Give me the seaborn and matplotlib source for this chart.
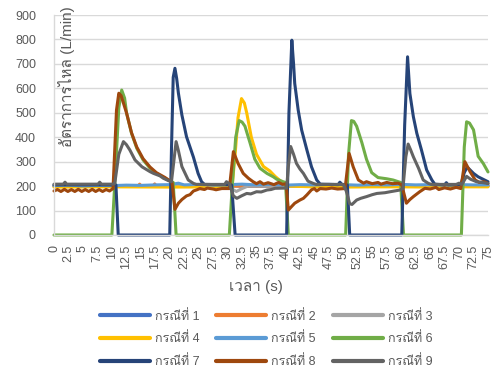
import numpy as np
import pandas as pd
import seaborn as sns
import matplotlib.pyplot as plt
from matplotlib import font_manager
from matplotlib.ft2font import FT2Font

# ---------------- data ----------------
case_names = ["กรณีที่ 1", "กรณีที่ 2", "กรณีที่ 3", "กรณีที่ 4", "กรณีที่ 5",
              "กรณีที่ 6", "กรณีที่ 7", "กรณีที่ 8", "กรณีที่ 9"]
case_colors = ["#4472C4", "#ED7D31", "#A5A5A5", "#FFC000", "#5B9BD5",
               "#70AD47", "#264478", "#9E480E", "#636363"]

t1 = [0, 5, 10, 15, 20, 25, 30, 35, 40, 45, 50, 55, 60, 65, 70, 75]
v1 = [200, 201, 199, 200, 202, 200, 201, 199, 200, 201, 200, 199, 201, 200, 200, 201]

t2 = [0, 10, 14.5, 14.8, 15.1, 17.1, 17.4, 17.7, 22, 30, 36, 36.3, 36.6, 48, 48.3, 48.6, 55, 65, 65.3, 65.6, 75]
v2 = [200, 200, 200, 208, 200, 200, 209, 200, 203, 200, 200, 206, 200, 200, 207, 200, 201, 200, 208, 200, 200]

t3 = [0, 10, 20, 30.3, 31.0, 31.5, 32.5, 33.5, 40, 50, 60, 70, 75]
v3 = [200, 199, 201, 200, 185, 178, 190, 200, 200, 201, 200, 199, 200]

t4 = [0, 10, 20, 30.4, 30.8, 31.3, 31.8, 32.4, 32.9, 33.3, 34.1, 35.0, 36.2, 37.3, 38.2, 39.6, 40.5, 45, 50, 55, 60, 65, 70, 75]
v4 = [196, 197, 196, 197, 203, 330, 480, 558, 540, 500, 400, 330, 280, 262, 240, 212, 200, 197, 196, 197, 197, 196, 197, 197]

t5 = [0, 2.5, 5, 7.5, 10, 12.5, 15, 17.5, 20, 21.5, 22.5, 25, 27.5, 30, 32.5, 35, 37.5, 40,
      42.5, 45, 47.5, 50, 52.5, 55, 57.5, 60, 62.5, 65, 67.5, 70, 72.5, 75]
v5 = [202, 204, 201, 203, 202, 204, 203, 205, 206, 212, 205, 207, 204, 206, 208, 205, 207, 204,
      206, 205, 207, 206, 204, 206, 205, 207, 205, 206, 204, 206, 205, 205]

t6 = [0, 10.0, 10.6, 11.2, 11.7, 12.2, 12.55, 13.4, 14.3, 15.4, 16.6, 17.7, 19.2, 20.0, 20.6, 21.1,
      30.3, 30.8, 31.4, 32.0, 32.5, 33.0, 33.9, 34.7, 35.6, 36.8, 37.9, 38.5, 39.6, 40.0, 40.5,
      50.4, 50.9, 51.4, 51.8, 52.3, 53.2, 54.0, 54.9, 56.0, 57.5, 58.6, 59.5, 59.9, 60.4,
      70.4, 70.9, 71.3, 71.8, 72.5, 73.3, 74.2, 75.0]
v6 = [0, 0, 250, 520, 593, 560, 498, 416, 355, 307, 273, 252, 232, 222, 215, 0,
      0, 200, 400, 468, 462, 445, 375, 310, 273, 252, 238, 228, 218, 215, 0,
      0, 330, 468, 465, 445, 378, 310, 255, 235, 230, 225, 218, 215, 0,
      0, 360, 463, 458, 430, 322, 292, 258]

t7 = [0, 10.7, 11.1, 20.0, 20.3, 20.6, 20.9, 21.2, 21.5, 22.1, 22.9, 23.5, 24.1, 24.9, 25.5, 26.0,
      30.7, 31.3, 40.2, 40.6, 41.1, 41.4, 41.6, 42.2, 42.8, 43.7, 44.5, 45.4, 46.0, 49.1, 49.4, 49.8,
      50.7, 51.1, 60.1, 60.6, 61.1, 61.5, 62.1, 62.7, 63.5, 64.4, 65.3, 65.8, 67.5, 67.8, 68.1,
      70.3, 70.9, 71.4, 72.5, 73.3, 75]
v7 = [205, 205, 0, 0, 350, 645, 682, 640, 580, 491, 402, 360, 318, 252, 218, 207,
      205, 0, 0, 500, 797, 700, 620, 511, 429, 348, 279, 225, 208, 206, 216, 206,
      205, 0, 0, 450, 729, 579, 484, 416, 348, 266, 225, 208, 205, 214, 205,
      205, 255, 278, 252, 238, 218]

t8 = [0, 0.6, 1.2, 1.8, 2.4, 3.0, 3.6, 4.2, 4.8, 5.4, 6.0, 6.6, 7.2, 7.8, 8.4, 9.0, 9.6, 10.2,
      10.8, 11.2, 11.6, 12.55, 13.4, 14.3, 15.4, 16.6, 17.7, 19.2, 20.0, 20.4, 20.9, 21.5, 22.1,
      22.9, 23.5, 24.1, 24.7, 25.2, 26.0, 26.5, 27.5, 28.0, 29.0, 30.3, 31.0, 31.8, 32.7, 33.6,
      34.4, 35.0, 35.6, 36.2, 37.0, 38.0, 38.8, 39.5, 40.1, 40.5, 41.0, 41.6, 42.5, 43.1, 43.7,
      44.5, 45.0, 45.4, 46.0, 47.0, 48.0, 49.0, 50.3, 51.0, 51.7, 52.6, 53.5, 54.0, 55.0, 56.0,
      56.5, 57.5, 58.5, 59.5, 60.1, 60.9, 61.5, 62.1, 63.2, 64.1, 65.0, 66.0, 66.5, 67.5, 68.5,
      69.5, 70.3, 71.0, 71.9, 72.8, 73.5, 74.3, 75.0]
v8 = [180, 186, 178, 187, 178, 186, 178, 187, 178, 186, 178, 187, 178, 186, 178, 186, 180, 190,
      511, 580, 570, 498, 418, 360, 312, 278, 255, 235, 222, 215, 105, 130, 145,
      160, 165, 180, 185, 190, 186, 192, 188, 185, 190, 190, 341, 293, 252, 232,
      218, 210, 218, 208, 214, 206, 215, 207, 210, 102, 115, 130, 143, 150, 164,
      185, 190, 180, 190, 188, 192, 188, 190, 334, 279, 225, 212, 218, 210, 215,
      208, 215, 210, 212, 205, 130, 145, 157, 177, 191, 188, 195, 186, 193, 188,
      195, 190, 300, 259, 225, 215, 218, 211]

t9 = [0, 1.6, 1.9, 2.2, 7.6, 7.9, 8.2, 10.3, 10.5, 11.2, 12.0, 12.5, 13.1, 14.0, 15.2, 16.6, 17.2,
      18.3, 18.9, 19.8, 20.3, 20.7, 21.1, 21.5, 22.1, 23.2, 24.1, 24.6, 29.5, 29.8, 30.3, 31.0,
      31.6, 32.4, 33.3, 34.0, 35.0, 35.8, 36.8, 37.5, 38.2, 40.2, 40.5, 40.9, 41.4, 41.9, 42.5,
      43.1, 43.9, 44.8, 45.3, 50.0, 50.5, 51.1, 51.5, 52.3, 53.0, 54.0, 55.0, 55.8, 57.2, 58.1,
      59.8, 60.3, 60.8, 61.2, 61.6, 62.1, 63.0, 63.8, 64.7, 65.2, 69.5, 70.0, 70.5, 71.3, 72.0,
      73.0, 75.0]
v9 = [208, 208, 216, 208, 208, 216, 208, 208, 211, 330, 382, 370, 348, 307, 279, 259, 252,
      242, 232, 222, 218, 300, 382, 345, 280, 225, 211, 207, 207, 218, 210, 160,
      150, 160, 170, 168, 177, 176, 184, 186, 191, 192, 280, 362, 330, 293, 270,
      252, 220, 211, 207, 207, 180, 128, 125, 143, 150, 157, 165, 170, 173, 177,
      184, 190, 320, 372, 350, 320, 273, 225, 211, 207, 207, 212, 207, 240, 228,
      218, 211]

case_times = [t1, t2, t3, t4, t5, t6, t7, t8, t9]
case_values = [v1, v2, v3, v4, v5, v6, v7, v8, v9]

x_ticks = np.arange(0, 75.01, 2.5)
y_ticks = np.arange(0, 901, 100)


# ---------------- fonts ----------------
def find_thai_font():
    for entry in font_manager.fontManager.ttflist:
        try:
            if 0x0E01 in FT2Font(entry.fname).get_charmap():
                return entry.name
        except Exception:
            continue
    return None


sns.set_theme(style="white")
thai = find_thai_font()
families = ["Liberation Sans"] + ([thai] if thai else []) + ["DejaVu Sans"]
plt.rcParams["font.family"] = families

text_color = "#595959"
grid_color = "#D9D9D9"

# ---------------- figure ----------------
fig = plt.figure(figsize=(4.94, 3.77), dpi=100)
ax = fig.add_axes([54 / 494, 1 - 235 / 377, 434 / 494, 220 / 377])

frames = [pd.DataFrame({"time": t, "flow": v, "case": name})
          for name, t, v in zip(case_names, case_times, case_values)]
df = pd.concat(frames, ignore_index=True)

sns.lineplot(data=df, x="time", y="flow", hue="case", hue_order=case_names,
             palette=case_colors, estimator=None, linewidth=2.2, ax=ax,
             clip_on=False, solid_capstyle="round", solid_joinstyle="round")

ax.set_xlim(0, 75)
ax.set_ylim(0, 900)
ax.set_xticks(x_ticks)
ax.set_xticklabels([f"{x:g}" for x in x_ticks], rotation=90)
ax.set_yticks(y_ticks)
ax.tick_params(axis="x", length=0, pad=7, labelsize=9, colors=text_color)
ax.tick_params(axis="y", length=0, pad=13, labelsize=9, colors=text_color)

ax.grid(axis="y", color=grid_color, linewidth=1)
ax.grid(axis="x", visible=False)
ax.set_axisbelow(True)
for side in ["top", "right"]:
    ax.spines[side].set_visible(False)
for side in ["left", "bottom"]:
    ax.spines[side].set_color(grid_color)
    ax.spines[side].set_linewidth(1)

ax.set_xlabel("เวลา (s)", fontsize=11, color=text_color)
ax.xaxis.label.set_va("center")
ax.xaxis.set_label_coords((256 - 54) / 434, (235 - 287) / 220)

ax.set_ylabel("อัตราการไหล (L/min)", fontsize=11, color=text_color)
ax.yaxis.label.set_va("center")
ax.yaxis.set_label_coords((66 - 54) / 434, (235 - 77) / 220)

# legend: three rows, filled row by row
handles, labels = ax.get_legend_handles_labels()
ax.get_legend().remove()
order = [0, 3, 6, 1, 4, 7, 2, 5, 8]
fig.legend([handles[i] for i in order], [labels[i] for i in order],
           ncol=3, loc="center", bbox_to_anchor=(266 / 494, 1 - 339 / 377),
           frameon=False, fontsize=9, labelcolor=text_color,
           handlelength=4.0, handletextpad=0.4, columnspacing=1.35,
           labelspacing=0.8)
for line in fig.legends[0].get_lines():
    line.set_linewidth(3)

fig.savefig("out.png", dpi=100)
